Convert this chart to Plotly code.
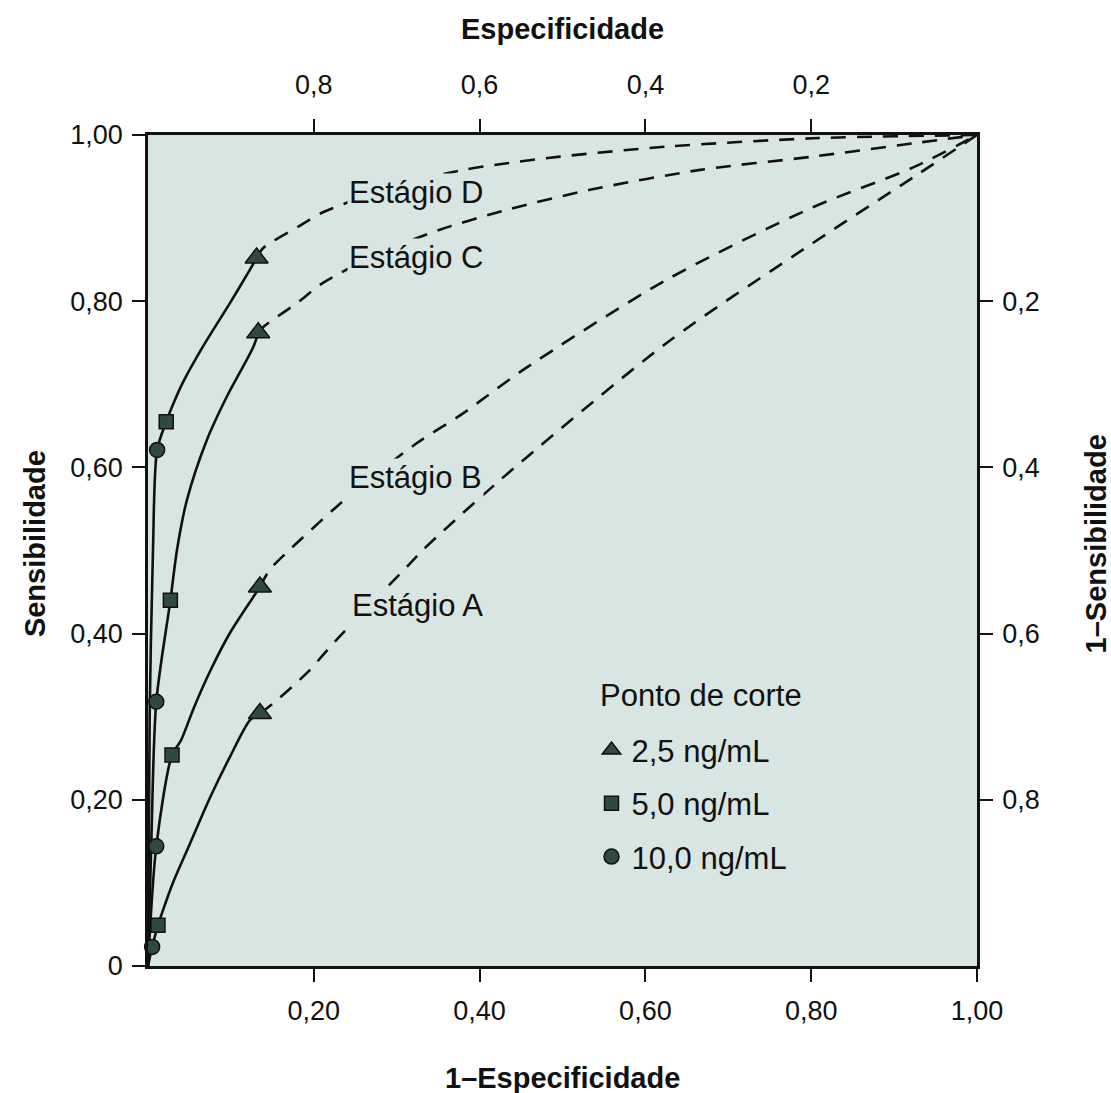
import plotly.graph_objects as go

# ---------------- data ----------------
stages = ["A", "B", "C", "D"]

# marker points (1-especificidade, sensibilidade) per cutoff
tri_x = [0.135, 0.135, 0.133, 0.131]
tri_y = [0.304, 0.456, 0.762, 0.852]
sq_x = [0.012, 0.029, 0.027, 0.022]
sq_y = [0.049, 0.254, 0.440, 0.655]
circ_x = [0.005, 0.010, 0.010, 0.011]
circ_y = [0.023, 0.144, 0.318, 0.621]

# solid curves (through measured cutoffs down to origin)
solid_A_x = [0.135, 0.123, 0.099, 0.075, 0.051, 0.030, 0.018, 0.012, 0.005, 0.0]
solid_A_y = [0.304, 0.296, 0.252, 0.203, 0.148, 0.100, 0.067, 0.049, 0.023, 0.0]
solid_B_x = [0.135, 0.127, 0.099, 0.075, 0.055, 0.040, 0.029, 0.010, 0.0]
solid_B_y = [0.456, 0.444, 0.401, 0.355, 0.310, 0.272, 0.254, 0.144, 0.0]
solid_C_x = [0.133, 0.127, 0.095, 0.071, 0.047, 0.035, 0.027, 0.010, 0.004, 0.0]
solid_C_y = [0.762, 0.745, 0.685, 0.633, 0.561, 0.501, 0.440, 0.318, 0.150, 0.0]
solid_D_x = [0.131, 0.123, 0.099, 0.066, 0.042, 0.029, 0.022, 0.011, 0.006, 0.002, 0.0]
solid_D_y = [0.852, 0.838, 0.798, 0.745, 0.702, 0.673, 0.655, 0.621, 0.500, 0.300, 0.0]

# dashed (extrapolated) curves to (1,1)
dash_A_x = [0.135, 0.151, 0.192, 0.225, 0.270, 0.312, 0.332, 0.425, 0.626, 0.802, 0.923, 1.0]
dash_A_y = [0.304, 0.316, 0.353, 0.390, 0.437, 0.480, 0.501, 0.585, 0.750, 0.870, 0.949, 1.0]
dash_B_x = [0.135, 0.147, 0.171, 0.244, 0.324, 0.380, 0.452, 0.626, 0.802, 0.923, 1.0]
dash_B_y = [0.456, 0.477, 0.501, 0.567, 0.629, 0.665, 0.717, 0.826, 0.913, 0.961, 1.0]
dash_C_x = [0.133, 0.139, 0.180, 0.211, 0.280, 0.352, 0.433, 0.533, 0.666, 0.802, 0.923, 1.0]
dash_C_y = [0.762, 0.769, 0.798, 0.822, 0.858, 0.886, 0.910, 0.934, 0.958, 0.974, 0.990, 1.0]
dash_D_x = [0.131, 0.139, 0.180, 0.211, 0.300, 0.380, 0.433, 0.497, 0.626, 0.802, 1.0]
dash_D_y = [0.852, 0.864, 0.889, 0.907, 0.939, 0.958, 0.966, 0.974, 0.986, 0.996, 1.0]

label_x = [0.244, 0.240, 0.240, 0.240]
label_y = [0.434, 0.588, 0.852, 0.931]

x_ticks = [0.2, 0.4, 0.6, 0.8, 1.0]
x_ticktext = ["0,20", "0,40", "0,60", "0,80", "1,00"]
y_ticks = [0, 0.2, 0.4, 0.6, 0.8, 1.0]
y_ticktext = ["0", "0,20", "0,40", "0,60", "0,80", "1,00"]
x2_ticks = [0.8, 0.6, 0.4, 0.2]
x2_ticktext = ["0,8", "0,6", "0,4", "0,2"]
y2_ticks = [0.2, 0.4, 0.6, 0.8]
y2_ticktext = ["0,2", "0,4", "0,6", "0,8"]

legend_title = "Ponto de corte"
legend_names = ["2,5 ng/mL", "5,0 ng/mL", "10,0 ng/mL"]

# ---------------- style ----------------
FONT = "Liberation Sans, Arial, Helvetica, sans-serif"
BG = "#d8e6e3"
MFILL = "#2e4a42"
MLINE = "#111111"

fig = go.Figure()

solids = [(solid_A_x, solid_A_y), (solid_B_x, solid_B_y), (solid_C_x, solid_C_y), (solid_D_x, solid_D_y)]
dashes = [(dash_A_x, dash_A_y), (dash_B_x, dash_B_y), (dash_C_x, dash_C_y), (dash_D_x, dash_D_y)]

for (sx, sy) in solids:
    fig.add_trace(go.Scatter(x=sx, y=sy, mode="lines", line=dict(color="#111", width=2.6, shape="spline", smoothing=0.8),
                             showlegend=False, hoverinfo="skip", cliponaxis=False))
for (dx, dy) in dashes:
    fig.add_trace(go.Scatter(x=dx, y=dy, mode="lines", line=dict(color="#111", width=2.6, dash="15px,11px", shape="spline", smoothing=0.8),
                             showlegend=False, hoverinfo="skip"))

marker_sets = [
    (tri_x, tri_y, "triangle-up", 20, legend_names[0]),
    (sq_x, sq_y, "square", 14, legend_names[1]),
    (circ_x, circ_y, "circle", 15, legend_names[2]),
]
for i, (mx, my, sym, sz, nm) in enumerate(marker_sets):
    fig.add_trace(go.Scatter(x=mx, y=my, mode="markers", name=nm, legendgroup=str(i),
                             marker=dict(symbol=sym, size=sz, color=MFILL, line=dict(color=MLINE, width=1.5)),
                             cliponaxis=False, showlegend=True))

# invisible trace to activate secondary axes
fig.add_trace(go.Scatter(x=[0.5], y=[0.5], xaxis="x2", yaxis="y2", mode="markers",
                         marker=dict(opacity=0), showlegend=False, hoverinfo="skip"))

for s, lx, ly in zip(stages, label_x, label_y):
    fig.add_annotation(x=lx, y=ly, xref="x", yref="y", text="Estágio " + s, showarrow=False,
                       xanchor="left", yanchor="middle", font=dict(family=FONT, size=31, color="#111"),
                       bgcolor=BG, borderpad=1)

axis_common = dict(showline=True, linecolor="#111", linewidth=2.5, ticks="outside", ticklen=13,
                   tickwidth=2, tickcolor="#111", showgrid=False, zeroline=False,
                   tickfont=dict(family=FONT, size=27, color="#111"), tickmode="array")

fig.update_layout(
    width=1111, height=1093,
    margin=dict(l=148, r=134, t=135, b=127),
    paper_bgcolor="white", plot_bgcolor=BG,
    xaxis=dict(range=[0, 1], tickvals=x_ticks, ticktext=x_ticktext, ticklabelstandoff=6, **axis_common),
    yaxis=dict(range=[0, 1], tickvals=y_ticks, ticktext=y_ticktext, ticklabelstandoff=4, **axis_common),
    xaxis2=dict(range=[1, 0], overlaying="x", side="top", anchor="y", tickvals=x2_ticks, ticktext=x2_ticktext,
                ticklabelstandoff=14, **axis_common),
    yaxis2=dict(range=[1, 0], overlaying="y", side="right", anchor="x", tickvals=y2_ticks, ticktext=y2_ticktext,
                ticklabelstandoff=4, **axis_common),
    legend=dict(x=0.535, y=0.292, xanchor="left", yanchor="top", bgcolor="rgba(0,0,0,0)",
                font=dict(family=FONT, size=31, color="#111"), tracegroupgap=10, itemsizing="trace",
                traceorder="grouped"),
    showlegend=True,
)

# legend title
fig.add_annotation(x=0.543, y=0.325, xref="paper", yref="paper", text=legend_title, showarrow=False,
                   xanchor="left", yanchor="middle", font=dict(family=FONT, size=31, color="#111"))

# axis titles
title_font = dict(family=FONT, size=29, color="#111")
fig.add_annotation(x=0.5, y=1.127, xref="paper", yref="paper", text="<b>Especificidade</b>", showarrow=False,
                   yanchor="middle", font=title_font)
fig.add_annotation(x=0.5, y=-0.135, xref="paper", yref="paper", text="<b>1–Especificidade</b>", showarrow=False,
                   yanchor="middle", font=title_font)
fig.add_annotation(x=-0.136, y=0.508, xref="paper", yref="paper", text="<b>Sensibilidade</b>", showarrow=False,
                   textangle=-90, xanchor="center", font=title_font)
fig.add_annotation(x=1.143, y=0.508, xref="paper", yref="paper", text="<b>1–Sensibilidade</b>", showarrow=False,
                   textangle=-90, xanchor="center", font=title_font)

fig.write_html("out.html")
